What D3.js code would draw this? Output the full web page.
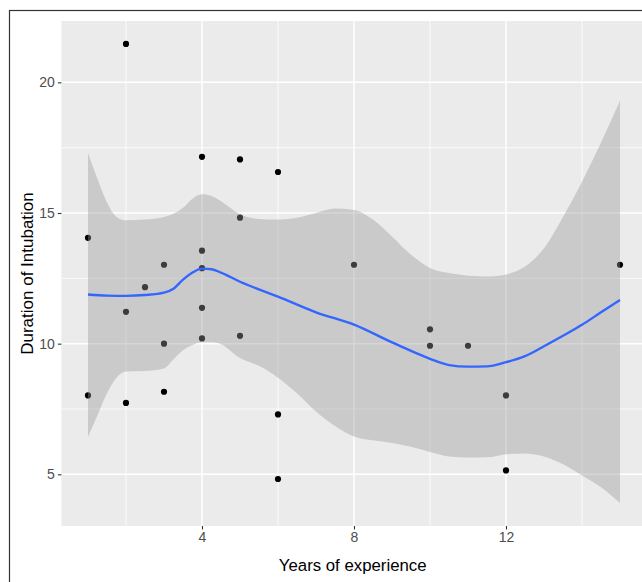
<!DOCTYPE html>
<html>
<head>
<meta charset="utf-8">
<script src="https://cdn.jsdelivr.net/npm/d3@7"></script>
<style>
  body { margin: 0; background: #fff; }
  svg { display: block; font-family: "Liberation Sans", Arial, sans-serif; }
</style>
</head>
<body>
<svg id="my-svg" width="642" height="582"></svg>
<script>
// observed points
const ptX = [1, 1, 2, 2, 2, 2.5, 3, 3, 3, 4, 4, 4, 4, 4, 5, 5, 5, 6, 6, 6, 8, 10, 10, 11, 12, 12, 15];
const ptY = [14.05, 8.02, 21.47, 11.22, 7.73, 12.16, 13.02, 10.0, 8.16, 17.15, 13.56, 12.89, 11.37, 10.2,
             17.05, 14.82, 10.3, 16.57, 7.29, 4.82, 13.02, 10.55, 9.92, 9.92, 8.02, 5.15, 13.02];

// smooth line
const fitX = [1, 1.5, 2, 2.5, 3, 3.25, 3.5, 3.75, 4, 4.25, 4.5, 5, 6, 7, 8, 9, 9.5, 10, 10.5, 11, 11.5, 12, 12.5, 13, 13.5, 14, 14.5, 15];
const fitY = [11.88, 11.84, 11.83, 11.86, 11.95, 12.1, 12.45, 12.72, 12.87, 12.85, 12.72, 12.37, 11.8, 11.2, 10.73,
              10.05, 9.72, 9.42, 9.18, 9.12, 9.13, 9.29, 9.52, 9.9, 10.3, 10.72, 11.2, 11.67];

// confidence band
const bandX  = [1, 1.25, 1.5, 1.75, 2, 2.5, 3, 3.25, 3.5, 3.75, 4, 4.25, 4.5, 5, 5.5, 6, 6.5, 7, 7.5, 8,
                8.5, 9, 9.5, 10, 10.5, 11, 11.5, 12, 12.5, 13, 13.5, 14, 14.5, 15];
const bandHi = [17.3, 16.3, 15.4, 14.85, 14.72, 14.75, 14.85, 14.97, 15.2, 15.55, 15.72, 15.65, 15.45, 14.95, 14.77, 14.75,
                14.82, 15.0, 15.17, 15.12, 14.75, 14.1, 13.4, 12.9, 12.7, 12.6, 12.57, 12.65, 12.95, 13.65, 14.85, 16.2, 17.7, 19.3];
const bandLo = [6.44, 7.26, 8.1, 8.7, 8.93, 8.95, 9.05, 9.4, 9.75, 9.95, 10.05, 10.05, 9.98, 9.45, 9.15, 8.7,
                8.1, 7.4, 6.85, 6.45, 6.3, 6.2, 6.05, 5.85, 5.68, 5.64, 5.65, 5.77, 5.8, 5.68, 5.38, 4.95, 4.5, 3.9];

const xTicks = [4, 8, 12];
const xMinor = [2, 6, 10, 14];
const yTicks = [5, 10, 15, 20];
const yMinor = [7.5, 12.5, 17.5];

const xLabel = "Years of experience";
const yLabel = "Duration of Intubation";

const svg = d3.select('svg');
const panel = {left: 61.4, top: 21, right: 646.6, bottom: 526};

// ggplot style 5% expansion
const xExt = d3.extent(ptX);
const xPad = (xExt[1] - xExt[0]) * 0.05;
const yExt = [d3.min(bandLo), d3.max(ptY)];
const yPad = (yExt[1] - yExt[0]) * 0.05;

const xScale = d3.scaleLinear().domain([xExt[0] - xPad, xExt[1] + xPad]).range([panel.left, panel.right]);
const yScale = d3.scaleLinear().domain([yExt[0] - yPad, yExt[1] + yPad]).range([panel.bottom, panel.top]);

// outer frame
svg.append('rect')
    .attr('x', 9.5).attr('y', 10.5)
    .attr('width', 700).attr('height', 700)
    .attr('fill', 'none').attr('stroke', '#333').attr('stroke-width', 1.2);

svg.append('rect')
    .attr('x', panel.left).attr('y', panel.top)
    .attr('width', panel.right - panel.left).attr('height', panel.bottom - panel.top)
    .attr('fill', '#EBEBEB');

const grid = svg.append('g');
grid.selectAll('.xminor').data(xMinor).enter().append('line')
    .attr('x1', d => xScale(d)).attr('x2', d => xScale(d))
    .attr('y1', panel.top).attr('y2', panel.bottom)
    .attr('stroke', '#fff').attr('stroke-width', 0.8);
grid.selectAll('.yminor').data(yMinor).enter().append('line')
    .attr('y1', d => yScale(d)).attr('y2', d => yScale(d))
    .attr('x1', panel.left).attr('x2', panel.right)
    .attr('stroke', '#fff').attr('stroke-width', 0.8);
grid.selectAll('.xmajor').data(xTicks).enter().append('line')
    .attr('x1', d => xScale(d)).attr('x2', d => xScale(d))
    .attr('y1', panel.top).attr('y2', panel.bottom)
    .attr('stroke', '#fff').attr('stroke-width', 1.5);
grid.selectAll('.ymajor').data(yTicks).enter().append('line')
    .attr('y1', d => yScale(d)).attr('y2', d => yScale(d))
    .attr('x1', panel.left).attr('x2', panel.right)
    .attr('stroke', '#fff').attr('stroke-width', 1.5);

// axes
const xAxis = d3.axisBottom(xScale).tickValues(xTicks).tickSize(3.5).tickPadding(3);
const yAxis = d3.axisLeft(yScale).tickValues(yTicks).tickSize(3.5).tickPadding(3);

const xAxisGroup = svg.append('g').attr('transform', `translate(0, ${panel.bottom})`).call(xAxis);
const yAxisGroup = svg.append('g').attr('transform', `translate(${panel.left}, 0)`).call(yAxis);
[xAxisGroup, yAxisGroup].forEach(g => {
    g.select('.domain').remove();
    g.selectAll('line').attr('stroke', '#333').attr('stroke-width', 1.1);
    g.selectAll('text').attr('fill', '#4D4D4D').attr('font-size', 14)
        .attr('font-family', '"Liberation Sans", Arial, sans-serif');
});

// points first, band on top (as ggplot does)
svg.append('g').selectAll('circle').data(ptX).enter().append('circle')
    .attr('cx', (d, i) => xScale(d))
    .attr('cy', (d, i) => yScale(ptY[i]))
    .attr('r', 3.1)
    .attr('fill', '#000');

const bandData = bandX.map((d, i) => [d, bandLo[i], bandHi[i]]);
const area = d3.area()
    .x(d => xScale(d[0]))
    .y0(d => yScale(d[1]))
    .y1(d => yScale(d[2]))
    .curve(d3.curveMonotoneX);
svg.append('path').datum(bandData)
    .attr('d', area)
    .attr('fill', '#999999').attr('fill-opacity', 0.4);

const line = d3.line()
    .x(d => xScale(d[0]))
    .y(d => yScale(d[1]))
    .curve(d3.curveMonotoneX);
svg.append('path').datum(fitX.map((d, i) => [d, fitY[i]]))
    .attr('d', line)
    .attr('fill', 'none').attr('stroke', '#3366FF').attr('stroke-width', 2.4);

// axis titles
svg.append('text')
    .attr('x', (panel.left + 642) / 2 + 1).attr('y', 571)
    .attr('text-anchor', 'middle').attr('font-size', 16.8).attr('fill', '#000')
    .text(xLabel);

svg.append('text')
    .attr('transform', `translate(33, ${(panel.top + panel.bottom) / 2}) rotate(-90)`)
    .attr('text-anchor', 'middle').attr('font-size', 17).attr('fill', '#000')
    .text(yLabel);
</script>
</body>
</html>
